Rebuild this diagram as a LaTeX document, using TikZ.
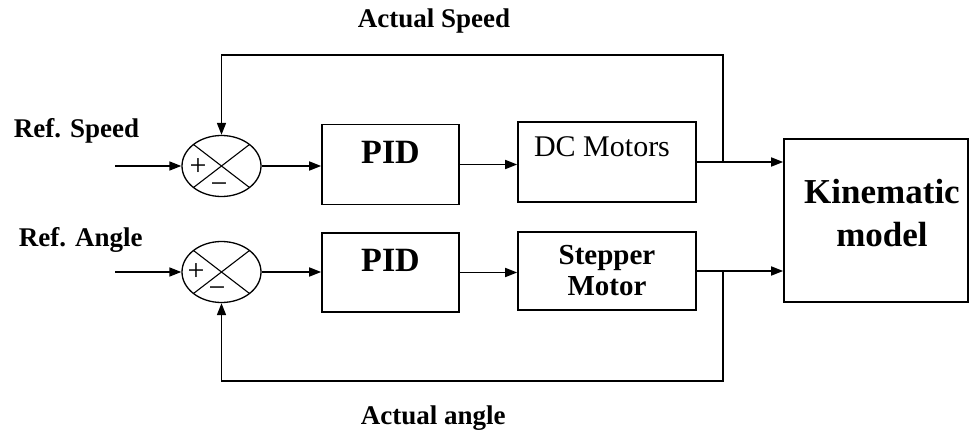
\documentclass[tikz,border=0pt]{standalone}
\usepackage{fontspec}
\setmainfont{Liberation Serif}
\usetikzlibrary{arrows.meta,shapes.geometric,calc}
\begin{document}
\begin{tikzpicture}[x=1pt,y=-1pt,
  line width=1.6pt,
  blk/.style={draw,line width=1.6pt,rectangle,inner sep=0pt},
  arr/.style={-{Triangle[length=12pt,width=9pt]}},
  lbl/.style={font=\fontsize{27}{30}\selectfont\bfseries,inner sep=0pt},
  sumj/.style={draw,ellipse,line width=1.3pt,minimum width=79pt,minimum height=61pt,inner sep=0pt},
  sgn/.style={font=\fontsize{30}{32}\selectfont,inner sep=0pt}]
\fill[white] (0,0) rectangle (970,436);
\useasboundingbox (0,0) rectangle (970,436);

% summing junctions
\node[sumj] (sum1) at (221.5,166) {};
\node[sumj] (sum2) at (221.5,272) {};
\foreach \s in {sum1,sum2}{
  \draw[line width=1.1pt] ([shift={(-28,-21.5)}]\s.center) -- ([shift={(28,21.5)}]\s.center);
  \draw[line width=1.1pt] ([shift={(-28,21.5)}]\s.center) -- ([shift={(28,-21.5)}]\s.center);
}
\node[sgn] (p1) at (198,167) {+};
\node[sgn] (m1) at (219,188) {−};
\node[sgn] (p2) at (196,272) {+};
\node[sgn] (m2) at (217,292) {−};

% blocks
\node[blk,minimum width=137pt,minimum height=80pt,
  label={[font=\fontsize{34}{36}\selectfont\bfseries,yshift=12pt]center:PID}] (pid1) at (390.5,164.5) {};
\node[blk,minimum width=137pt,minimum height=79pt,
  label={[font=\fontsize{34}{36}\selectfont\bfseries,yshift=12pt]center:PID}] (pid2) at (390.5,272.5) {};
\node[blk,minimum width=178pt,minimum height=80pt,
  label={[font=\fontsize{30}{31}\selectfont,yshift=15pt,xshift=-5pt]center:DC Motors}] (dc) at (607,162) {};
\node[blk,minimum width=178pt,minimum height=78pt,
  label={[font=\fontsize{29}{31}\selectfont\bfseries,align=center]center:Stepper\\Motor}] (step) at (607,271) {};
\node[blk,minimum width=184pt,minimum height=163pt,
  label={[font=\fontsize{35}{43}\selectfont\bfseries,align=center,xshift=6pt,yshift=7pt]center:Kinematic\\model}] (kin) at (876,220.5) {};

% labels
\node[lbl,anchor=base west] (lrs) at (13,137) {Ref. Speed};
\node[lbl,anchor=base west] (lra) at (18,246) {Ref. Angle};
\node[lbl,anchor=base west] (las) at (357,28) {Actual Speed};
\node[lbl,anchor=base west] (laa) at (360,424) {Actual angle};

% coordinates
\coordinate (in1) at (115,166);
\coordinate (in2) at (115,272);
\coordinate (b1) at (723,162);
\coordinate (t1) at (723,55);
\coordinate (b2) at (723,271);
\coordinate (t2) at (723,381);

% connectors
\draw[arr] (in1) -- (sum1.west);
\draw[arr] (in2) -- (sum2.west);
\draw[arr] (sum1.east) -- (sum1.east -| pid1.west);
\draw[arr] (sum2.east) -- (sum2.east -| pid2.west);
\draw[arr] (pid1.east) -- (pid1.east -| dc.west);
\draw[arr] (pid2.east) -- (pid2.east -| step.west);
\draw[arr] (dc.east) -- (dc.east -| kin.west);
\draw[arr] (step.east) -- (step.east -| kin.west);
\draw[arr] (b1) -- (t1) -| (sum1.north);
\draw[arr] (b2) -- (t2) -| (sum2.south);
\end{tikzpicture}
\end{document}
